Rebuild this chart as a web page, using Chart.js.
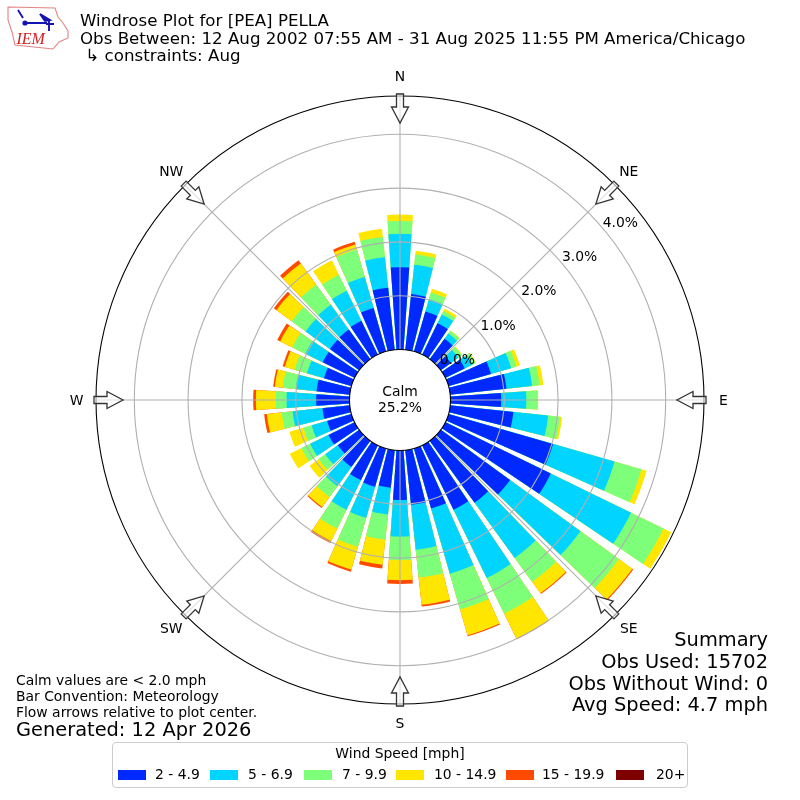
<!DOCTYPE html>
<html>
<head>
<meta charset="utf-8">
<title>Windrose</title>
<script src="https://cdn.jsdelivr.net/npm/chart.js@4/dist/chart.umd.js"></script>
<style>
body{margin:0;background:#fff;font-family:"DejaVu Sans",sans-serif;color:#000}
#wrap{position:relative;width:800px;height:800px;overflow:hidden}
#wrap div{position:absolute;white-space:pre}
#title{left:80px;top:12px;font-size:16.67px;line-height:17.6px}
#notes{left:16px;top:672px;font-size:13.9px;line-height:16px}
#generated{left:16px;top:718px;font-size:19.4px;line-height:24px}
#summary{right:32px;top:629px;font-size:19.4px;line-height:21.8px;text-align:right}
#calm{left:350px;top:383px;width:100px;text-align:center;font-size:13.9px;line-height:16px}
#legend{left:112px;top:742px;width:574px;height:44px;border:1px solid #ccc;border-radius:4px;background:#fff}
#legendTitle{left:0;width:574px;top:3px;text-align:center;font-size:13.9px;line-height:15px}
.sw{top:27px;width:28px;height:10px}
.lb{top:23px;font-size:13.9px;line-height:17px}
#logo{position:absolute;left:0;top:0}
</style>
</head>
<body>
<div id="wrap">
<canvas id="rose" width="800" height="800"></canvas>
<svg id="logo" width="80" height="60" viewBox="0 0 80 60">
<polygon points="8,7 55,8 58,17 63,23 68,31 68,38 59,42 53,49 15,45 12,32 8,20" fill="none" stroke="#e08484" stroke-width="1.1"/>
<path d="M18,10 L23,18 M25,23 H47 M40,14 L50,20 L45,21 Z M49,19 V31 M46,24 H54" stroke="#1414b4" stroke-width="1.9" fill="#1414b4"/>
<circle cx="25" cy="23" r="2.6" fill="#1414b4"/>
<text x="16.5" y="43.5" font-family="Liberation Serif" font-style="italic" font-size="16" fill="#d02020">IEM</text>
</svg>
<div id="title">Windrose Plot for [PEA] PELLA
Obs Between: 12 Aug 2002 07:55 AM - 31 Aug 2025 11:55 PM America/Chicago
 ↳ constraints: Aug</div>
<div id="notes">Calm values are &lt; 2.0 mph
Bar Convention: Meteorology
Flow arrows relative to plot center.</div>
<div id="generated">Generated: 12 Apr 2026</div>
<div id="summary">Summary
Obs Used: 15702
Obs Without Wind: 0
Avg Speed: 4.7 mph</div>
<div id="calm">Calm
25.2%</div>
<div id="legend"><div id="legendTitle">Wind Speed [mph]</div></div>
</div>
<script>
const directions = [0,10,20,30,40,50,60,70,80,90,100,110,120,130,140,150,160,170,180,190,200,210,220,230,240,250,260,270,280,290,300,310,320,330,340,350];

// percent of obs per direction, one list per speed bin
const speed2to5 = [1.53,1.04,.77,.65,.47,.23,.40,.82,1.05,.94,1.18,2.02,2.18,1.59,1.42,1.33,1.16,1.02,.92,.70,.74,.72,.60,.49,.54,.47,.51,.62,.62,.53,.66,.67,.68,.70,.84,1.16];
const speed5to7 = [.62,.55,.24,.18,.12,.17,.16,.39,.48,.47,.65,1.19,1.66,1.62,1.27,1.41,1.26,.84,.68,.50,.60,.61,.44,.29,.38,.30,.56,.55,.39,.33,.36,.56,.57,.62,.60,.57];
const speed7to10 = [.24,.19,.13,.07,.06,.08,.06,.10,.14,.21,.22,.52,.67,.88,.55,.74,.69,.52,.44,.47,.56,.39,.25,.15,.18,.16,.20,.20,.24,.24,.27,.32,.46,.33,.53,.38];
const speed10to15 = [.12,.07,.07,.05,.01,.01,.01,.07,.07,.01,.04,.10,.16,.31,.26,.52,.50,.51,.37,.47,.44,.26,.23,.21,.24,.27,.28,.37,.15,.19,.25,.35,.49,.30,.10,.15];
const speed15to20 = [0,0,0,0,0,0,0,0,0,0,0,0,0,.02,.02,.01,.02,.03,.07,.07,.04,.04,.02,0,0,0,.05,.05,.03,.04,.06,.06,.07,0,.05,0];
const speed20up = [0,0,0,0,0,0,0,0,0,0,0,0,0,0,0,0,0,0,0,0,0,0,0,0,0,0,0,0,0,0,0,0,0,0,0,0];

const speedLabels = ["2 - 4.9","5 - 6.9","7 - 9.9","10 - 14.9","15 - 19.9","20+"];
const speedColors = ["#0029ff","#00d4ff","#7dff7a","#ffe600","#ff4a00","#7f0000"];
const speedBins = [speed2to5,speed5to7,speed7to10,speed10to15,speed15to20,speed20up];

const rTicks = [0,1,2,3,4];
const compass = ["N","NE","E","SE","S","SW","W","NW"];

const R_MIN = -0.939;
const R_MAX = 4.712;
const BAR_DEG = 8;
const GAP_DEG = 2;

// bars are overlaid longest first, so each bin is drawn to its running total.
// every direction takes two slots, the bar and the white gap after it
const running = directions.map(()=>0);
const datasets = speedBins.map((bin,b)=>{
    const data = [];
    const colors = [];
    const angles = [];
    bin.forEach((v,i)=>{
        running[i] += v;
        data.push(+running[i].toFixed(2),0);
        colors.push(v>0 ? speedColors[b] : "transparent","transparent");
        angles.push(BAR_DEG,GAP_DEG);
    });
    return {label:speedLabels[b],data:data,backgroundColor:colors,angle:angles,borderWidth:0};
});

const labels = [];
directions.forEach(d=>labels.push(d+"°",""));

function spot(scale,deg,r){
    const a = deg*Math.PI/180;
    return {x:scale.xCenter+r*Math.sin(a),y:scale.yCenter-r*Math.cos(a)};
}

const roseDecor = {
    id:"roseDecor",
    afterDatasetsDraw(chart){
        const ctx = chart.ctx;
        const scale = chart.scales.r;
        const hole = scale.getDistanceFromCenterForValue(0);
        ctx.save();
        ctx.fillStyle = "#fff";
        ctx.beginPath();
        ctx.arc(scale.xCenter,scale.yCenter,hole,0,Math.PI*2);
        ctx.fill();
        ctx.strokeStyle = "#b0b0b0";
        ctx.lineWidth = 1.1;
        compass.forEach((c,i)=>{
            const p0 = spot(scale,i*45,hole);
            const p1 = spot(scale,i*45,scale.drawingArea);
            ctx.beginPath();
            ctx.moveTo(p0.x,p0.y);
            ctx.lineTo(p1.x,p1.y);
            ctx.stroke();
        });
        ctx.restore();
    },
    afterDraw(chart){
        const ctx = chart.ctx;
        const scale = chart.scales.r;
        ctx.save();
        ctx.fillStyle = "#000";
        ctx.font = "13.9px 'DejaVu Sans'";
        ctx.textAlign = "center";
        ctx.textBaseline = "middle";
        rTicks.forEach(v=>{
            const r = scale.getDistanceFromCenterForValue(v);
            ctx.fillText(v.toFixed(1)+"%",scale.xCenter+19+r*.758,scale.yCenter-7.5-r*.637);
        });
        compass.forEach((c,i)=>{
            const p = spot(scale,i*45,323.5);
            ctx.fillText(c,p.x,p.y+1);
            drawArrow(ctx,scale,i*45);
        });
        ctx.restore();
    }
};

function drawArrow(ctx,scale,deg){
    ctx.save();
    ctx.translate(scale.xCenter,scale.yCenter);
    ctx.rotate(deg*Math.PI/180);
    // y is negative towards the rim
    ctx.beginPath();
    ctx.moveTo(-3.5,-306);
    ctx.lineTo(3.5,-306);
    ctx.lineTo(3.5,-293);
    ctx.lineTo(8.5,-293);
    ctx.lineTo(0,-277);
    ctx.lineTo(-8.5,-293);
    ctx.lineTo(-3.5,-293);
    ctx.closePath();
    ctx.fillStyle = "rgba(255,255,255,.6)";
    ctx.fill();
    ctx.strokeStyle = "#333";
    ctx.lineWidth = 1.3;
    ctx.stroke();
    ctx.restore();
}

new Chart(document.getElementById("rose"),{
    type:"polarArea",
    data:{labels:labels,datasets:datasets},
    plugins:[roseDecor],
    options:{
        responsive:false,
        animation:false,
        devicePixelRatio:1,
        layout:{padding:96},
        plugins:{legend:{display:false},tooltip:{enabled:false}},
        scales:{
            r:{
                min:R_MIN,
                max:R_MAX,
                startAngle:-BAR_DEG/2,
                angleLines:{display:false},
                pointLabels:{display:false},
                ticks:{display:false},
                afterBuildTicks(scale){
                    scale.ticks = rTicks.concat(R_MAX).map(v=>({value:v}));
                },
                grid:{
                    z:1,
                    circular:true,
                    lineWidth:1.1,
                    color(c){
                        const v = c.tick ? c.tick.value : 1;
                        return (v===0||v===R_MAX) ? "#000" : "#b0b0b0";
                    }
                }
            }
        }
    }
});

// legend entries
const swatchX = [5,97,191,283,393,503];
const textX = [42,135,229,321,429,543];
const legend = document.getElementById("legend");
speedLabels.forEach((t,i)=>{
    const sw = document.createElement("div");
    sw.className = "sw";
    sw.style.left = swatchX[i]+"px";
    sw.style.background = speedColors[i];
    legend.appendChild(sw);
    const lb = document.createElement("div");
    lb.className = "lb";
    lb.style.left = textX[i]+"px";
    lb.textContent = t;
    legend.appendChild(lb);
});
</script>
</body>
</html>
